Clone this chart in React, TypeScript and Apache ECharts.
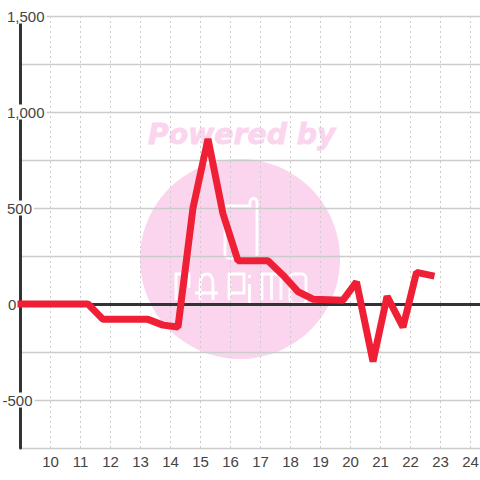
import React, { useEffect, useRef } from "react";
import * as echarts from "echarts";

const hours = [8.9, 11.25, 11.75, 13.25, 13.75, 14.25, 14.75, 15.25, 15.75, 16.25, 17.25, 17.75, 18.25, 18.75, 19.75, 20.2, 20.75, 21.22, 21.75, 22.2, 22.8];
const values = [0, 0, -80, -80, -110, -120, 500, 860, 470, 225, 225, 150, 65, 25, 20, 115, -300, 40, -120, 165, 145];
const yLabels: Record<string, string> = { "1500": "{p|1,500}", "1000": "{p|1,000}", "500": "{p|500}", "0": "{z|0}", "-500": "{n|-500}" };

const INK = "#444444";
const PINK = "#fbd5ee";
const glassAndLogo = [
  "M225 206 H250 V202 A3.5 3.5 0 0 1 257 202 V254 A4 4 0 0 1 253 258 H229 A4 4 0 0 1 225 254 Z",
  "M176 300 V274 H189 V288",
  "M195 293 H218 M200 300 V284 Q200 274 207 274 Q213 274 213 284 V300",
  "M229 300 V274 H244 V293 H229",
  "M249.5 275 V278 M249.5 284 V305",
  "M262 300 V274 H281 V300 M271.5 274 V300",
  "M290 278 A4 4 0 0 1 294 274 H302 A4 4 0 0 1 306 278 V300 A4 4 0 0 1 302 304 H294 A4 4 0 0 1 290 300 Z",
].join(" ");
echarts.graphic.registerShape("papimoLogo", echarts.graphic.extendPath(glassAndLogo, {}) as any);

export default function App() {
  const ref = useRef<HTMLDivElement>(null);
  useEffect(() => {
    const chart = echarts.init(ref.current!, undefined, { renderer: "svg" });
    const xRange = { min: 9, max: 24.317 };
    chart.setOption({
      animation: false,
      backgroundColor: "#ffffff",
      grid: { left: 20.5, right: 0, top: 16, bottom: 32, containLabel: false, outerBoundsMode: "none" },
      graphic: [
        { type: "circle", z: -10, shape: { cx: 240, cy: 259, r: 100 }, style: { fill: PINK } },
        { type: "text", z: -10, x: 148, y: 120, style: { text: "Powered by", fill: PINK, stroke: PINK, lineWidth: 0.8, font: "italic bold 28.3px 'DejaVu Sans'" } },
        { type: "papimoLogo", z: -9, x: 0, y: 0, style: { fill: "none", stroke: "#ffffff", lineWidth: 2.8 } },
      ],
      xAxis: [
        {
          type: "value", interval: 1, ...xRange, position: "bottom",
          axisLine: { onZero: false, show: false }, axisTick: { show: false },
          axisLabel: {
            margin: 6, color: INK, fontSize: 15, fontFamily: "Liberation Sans", showMaxLabel: true, hideOverlap: false,
            formatter: (v: number) => (Number.isInteger(v) && v >= 10 ? String(v) : ""),
          },
          splitLine: { show: true, lineStyle: { color: "#cccccc", width: 1, type: [2, 3] } },
        },
        {
          type: "value", interval: 1, ...xRange,
          axisLine: { show: true, onZero: true, lineStyle: { color: "#333333", width: 3 } },
          axisTick: { show: false }, axisLabel: { show: false }, splitLine: { show: false },
        },
      ],
      yAxis: {
        type: "value", min: -750, max: 1500, interval: 250,
        axisLine: { show: true, onZero: false, lineStyle: { color: "#333333", width: 3 } },
        axisTick: { show: false },
        axisLabel: {
          align: "left", margin: 18, color: INK, fontSize: 15, fontFamily: "Liberation Sans",
          formatter: (v: number) => yLabels[String(v)] ?? "",
          rich: {
            p: { color: INK, fontSize: 15, fontFamily: "Liberation Sans", backgroundColor: "#ffffff", padding: [0, 2, 0, 4.5] },
            n: { color: INK, fontSize: 15, fontFamily: "Liberation Sans", backgroundColor: "#ffffff", padding: [0, 2, 0, 0] },
            z: { color: INK, fontSize: 15, fontFamily: "Liberation Sans", padding: [0, 0, 0, 5.5] },
          },
        },
        splitLine: { show: true, lineStyle: { color: "#cccccc", width: 1.3 } },
      },
      series: [
        {
          type: "line", xAxisIndex: 0, yAxisIndex: 0, clip: false, showSymbol: false, symbol: "none", z: 5,
          data: hours.map((h, i) => [h, values[i]]),
          lineStyle: { color: "#ef2036", width: 7, join: "bevel", cap: "butt" },
        },
      ],
    });
    return () => chart.dispose();
  }, []);
  return <div ref={ref} style={{ position: "fixed", left: 0, top: 0, width: 480, height: 480 }} />;
}
